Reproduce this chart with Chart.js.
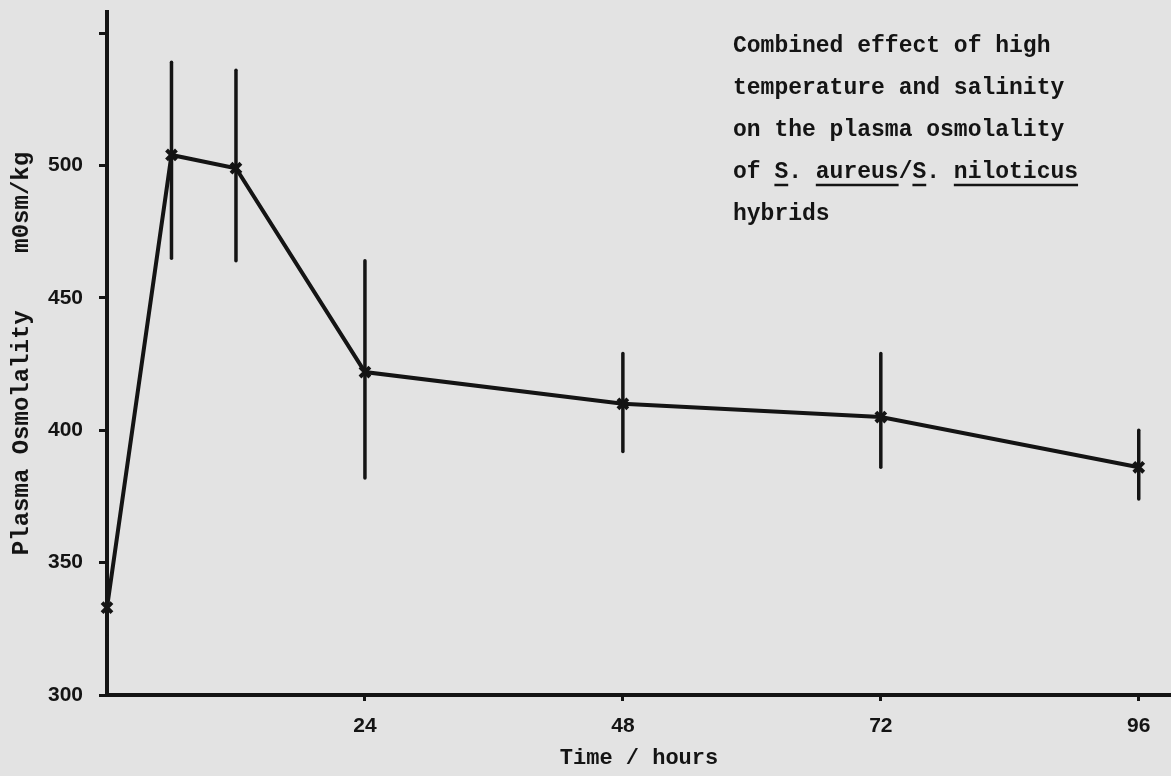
<!DOCTYPE html>
<html>
<head>
<meta charset="utf-8">
<script src="https://cdn.jsdelivr.net/npm/chart.js@4"></script>
<style>
  html, body { margin: 0; padding: 0; background: #e3e3e3; }
  #wrap { width: 1171px; height: 776px; position: relative; }
</style>
</head>
<body>
<div id="wrap"><canvas id="chart"></canvas></div>
<script>
// values
const hours = [0, 6, 12, 24, 48, 72, 96];
const osmolality = [333, 504, 499, 422, 410, 405, 386];
const errUpper = [344, 539, 536, 464, 429, 429, 400];
const errLower = [323, 465, 464, 382, 392, 386, 374];

const xTicks = [24, 48, 72, 96];
const yTicks = [300, 350, 400, 450, 500, 550];

const noteLines = [
    'Combined effect of high',
    'temperature and salinity',
    'on the plasma osmolality',
    'of S. aureus/S. niloticus',
    'hybrids'
];
// underlined words on line 4 (start char, length)
const noteUnderlines = [[3, 1], [6, 6], [13, 1], [16, 9]];

const ink = '#141414';
const monoFont = '"Liberation Mono", "DejaVu Sans Mono", monospace';
const sansFont = '"Liberation Sans", Arial, sans-serif';

// vertical error bars, drawn through the scales
const errorBars = {
    id: 'errorBars',
    afterDatasetsDraw(chart) {
        const { ctx, scales: { x, y } } = chart;
        ctx.save();
        ctx.strokeStyle = ink;
        ctx.lineWidth = 3.5;
        ctx.lineCap = 'round';
        hours.forEach((h, i) => {
            const px = x.getPixelForValue(h);
            ctx.beginPath();
            ctx.moveTo(px, y.getPixelForValue(errUpper[i]));
            ctx.lineTo(px, y.getPixelForValue(errLower[i]));
            ctx.stroke();
        });
        ctx.restore();
    }
};

// typed caption in the upper right
const caption = {
    id: 'caption',
    afterDraw(chart) {
        const { ctx, chartArea } = chart;
        const left = chartArea.left + 626;
        const top = 46;
        const step = 42;
        ctx.save();
        ctx.font = 'bold 23px ' + monoFont;
        ctx.fillStyle = ink;
        ctx.textBaseline = 'middle';
        noteLines.forEach((line, i) => {
            ctx.fillText(line, left, top + i * step);
        });
        const cw = ctx.measureText('M').width;
        ctx.strokeStyle = ink;
        ctx.lineWidth = 2.5;
        const uy = top + 3 * step + 13;
        noteUnderlines.forEach(([start, len]) => {
            ctx.beginPath();
            ctx.moveTo(left + start * cw, uy);
            ctx.lineTo(left + (start + len) * cw, uy);
            ctx.stroke();
        });
        ctx.restore();
    }
};

new Chart(document.getElementById('chart'), {
    type: 'line',
    data: {
        datasets: [{
            data: hours.map((h, i) => ({ x: h, y: osmolality[i] })),
            borderColor: ink,
            borderWidth: 4,
            pointStyle: 'crossRot',
            pointRadius: 7,
            pointBorderWidth: 4,
            pointBorderColor: ink,
            tension: 0,
            clip: false
        }]
    },
    options: {
        responsive: true,
        maintainAspectRatio: false,
        animation: false,
        layout: { autoPadding: false, padding: { top: 12, right: 0, bottom: 0, left: 0 } },
        plugins: { legend: { display: false }, tooltip: { enabled: false } },
        scales: {
            x: {
                type: 'linear',
                min: 0,
                max: 99,
                afterBuildTicks: s => { s.ticks = xTicks.map(v => ({ value: v })); },
                afterFit: s => { s.height = 81; s.paddingLeft = 0; s.paddingRight = 0; },
                border: { color: ink, width: 4 },
                grid: { drawOnChartArea: false, drawTicks: true, tickLength: 6, color: ink, lineWidth: 3 },
                ticks: { color: ink, font: { family: sansFont, size: 21, weight: 'bold' }, padding: 13, maxRotation: 0 },
                title: { display: true, text: 'Time / hours', color: ink, font: { family: monoFont, size: 22, weight: 'bold' }, padding: { top: 5 } }
            },
            y: {
                min: 300,
                max: 558,
                afterBuildTicks: s => { s.ticks = yTicks.map(v => ({ value: v })); },
                afterFit: s => { s.width = 107; s.paddingTop = 0; s.paddingBottom = 0; },
                border: { color: ink, width: 4 },
                grid: { drawOnChartArea: false, drawTicks: true, tickLength: 8, color: ink, lineWidth: 3 },
                ticks: {
                    color: ink,
                    font: { family: sansFont, size: 21, weight: 'bold' },
                    padding: 16,
                    callback: v => (v === 550 ? '' : String(v))
                },
                title: { display: true, text: 'Plasma Osmolality    m0sm/kg', color: ink, font: { family: monoFont, size: 24, weight: 'bold' }, padding: { top: 8 } }
            }
        }
    },
    plugins: [errorBars, caption]
});
</script>
</body>
</html>
